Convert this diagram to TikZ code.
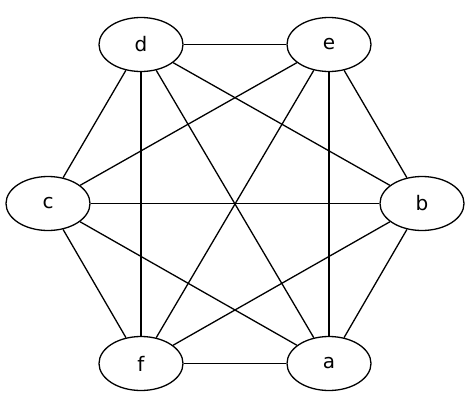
\documentclass[tikz,border=0pt]{standalone}
\usepackage{fontspec}
\setmainfont{DejaVu Sans}
\usetikzlibrary{shapes.geometric}
\begin{document}
\begin{tikzpicture}[x=1pt,y=-1pt,
  vtx/.style={ellipse,draw,line width=1.3pt,minimum width=84pt,minimum height=54pt,inner sep=0pt,font=\fontsize{20}{22}\selectfont},
  edge/.style={line width=1.3pt}]
\useasboundingbox (0,0) rectangle (474,407);
\node[vtx] (d) at (141,44.5) {d};
\node[vtx] (e) at (329,44.5) {e};
\node[vtx] (c) at (48,203.5) {c};
\node[vtx] (b) at (422,203.5) {b};
\node[vtx] (f) at (141,363.5) {f};
\node[vtx] (a) at (329,363.5) {a};
\foreach \u/\v in {d/e,d/c,d/f,d/b,d/a,e/c,e/f,e/b,e/a,c/b,c/f,c/a,b/f,b/a,f/a}
  \draw[edge] (\u) -- (\v);
\end{tikzpicture}
\end{document}
